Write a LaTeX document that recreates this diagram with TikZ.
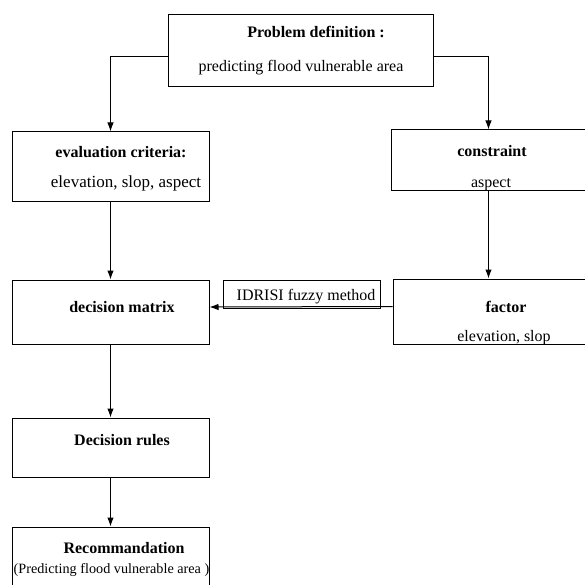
\documentclass[tikz,border=0pt]{standalone}
\usepackage{fontspec}
\setmainfont{Liberation Serif}
\usetikzlibrary{arrows.meta}
\begin{document}
\begin{tikzpicture}[x=1pt,y=-1pt,
  boxnode/.style={draw,line width=1pt,rectangle,inner sep=0pt},
  lbl/.style={anchor=base,inner sep=0pt,font=\fontsize{16}{18}\selectfont},
  blbl/.style={lbl,font=\fontsize{16}{18}\selectfont\bfseries},
  arr/.style={line width=1pt,-{Latex[length=9pt,width=6.5pt]}}]
\useasboundingbox (0,0) rectangle (584,585);
% boxes
\node[boxnode,minimum width=265pt,minimum height=72pt] (top) at (300.5,51) {};
\node[boxnode,minimum width=197pt,minimum height=69pt] (eval) at (110.5,166.5) {};
\node[boxnode,minimum width=199pt,minimum height=61pt] (cons) at (490.5,160.5) {};
\node[boxnode,minimum width=197pt,minimum height=64pt] (dm) at (110.5,312) {};
\node[boxnode,minimum width=197pt,minimum height=65pt] (factor) at (491.5,311.5) {};
\node[boxnode,minimum width=157pt,minimum height=28pt] (idrisi) at (301.5,294) {};
\node[boxnode,minimum width=197pt,minimum height=59pt] (rules) at (110.5,447.5) {};
\node[boxnode,minimum width=197pt,minimum height=63pt] (rec) at (110.5,558.5) {};
% texts
\node[blbl] (t1) at (316,38) {Problem definition :};
\node[lbl] (t2) at (301,72) {predicting flood vulnerable area};
\node[blbl] (t3) at (121,158) {evaluation criteria:};
\node[lbl,font=\fontsize{17}{19}\selectfont] (t4) at (126,188) {elevation, slop, aspect};
\node[blbl] (t5) at (492,157) {constraint};
\node[lbl] (t6) at (491,187) {aspect};
\node[blbl] (t7) at (122,312) {decision matrix};
\node[blbl] (t8) at (506,312) {factor};
\node[lbl] (t9) at (504,341) {elevation, slop};
\node[lbl] (t10) at (306,300) {IDRISI fuzzy method};
\node[blbl] (t11) at (122,445) {Decision rules};
\node[blbl] (t12) at (124,553) {Recommandation};
\node[lbl,font=\fontsize{14.2}{16}\selectfont] (t13) at (111.5,573) {(Predicting flood vulnerable area )};
% connectors
\draw[arr] ([yshift=-6pt]top.west) -| (eval.north);
\draw[arr] ([yshift=-6pt]top.east) -| ([xshift=-2pt]cons.north);
\draw[arr] (eval.south) -- (dm.north);
\draw[arr] ([xshift=-2pt]cons.south) -- ([xshift=-3pt]factor.north);
\draw[arr] ([yshift=5pt]factor.west) -- ([yshift=5pt]dm.east);
\draw[arr] (dm.south) -- (rules.north);
\draw[arr] (rules.south) -- (rec.north);
\end{tikzpicture}
\end{document}
